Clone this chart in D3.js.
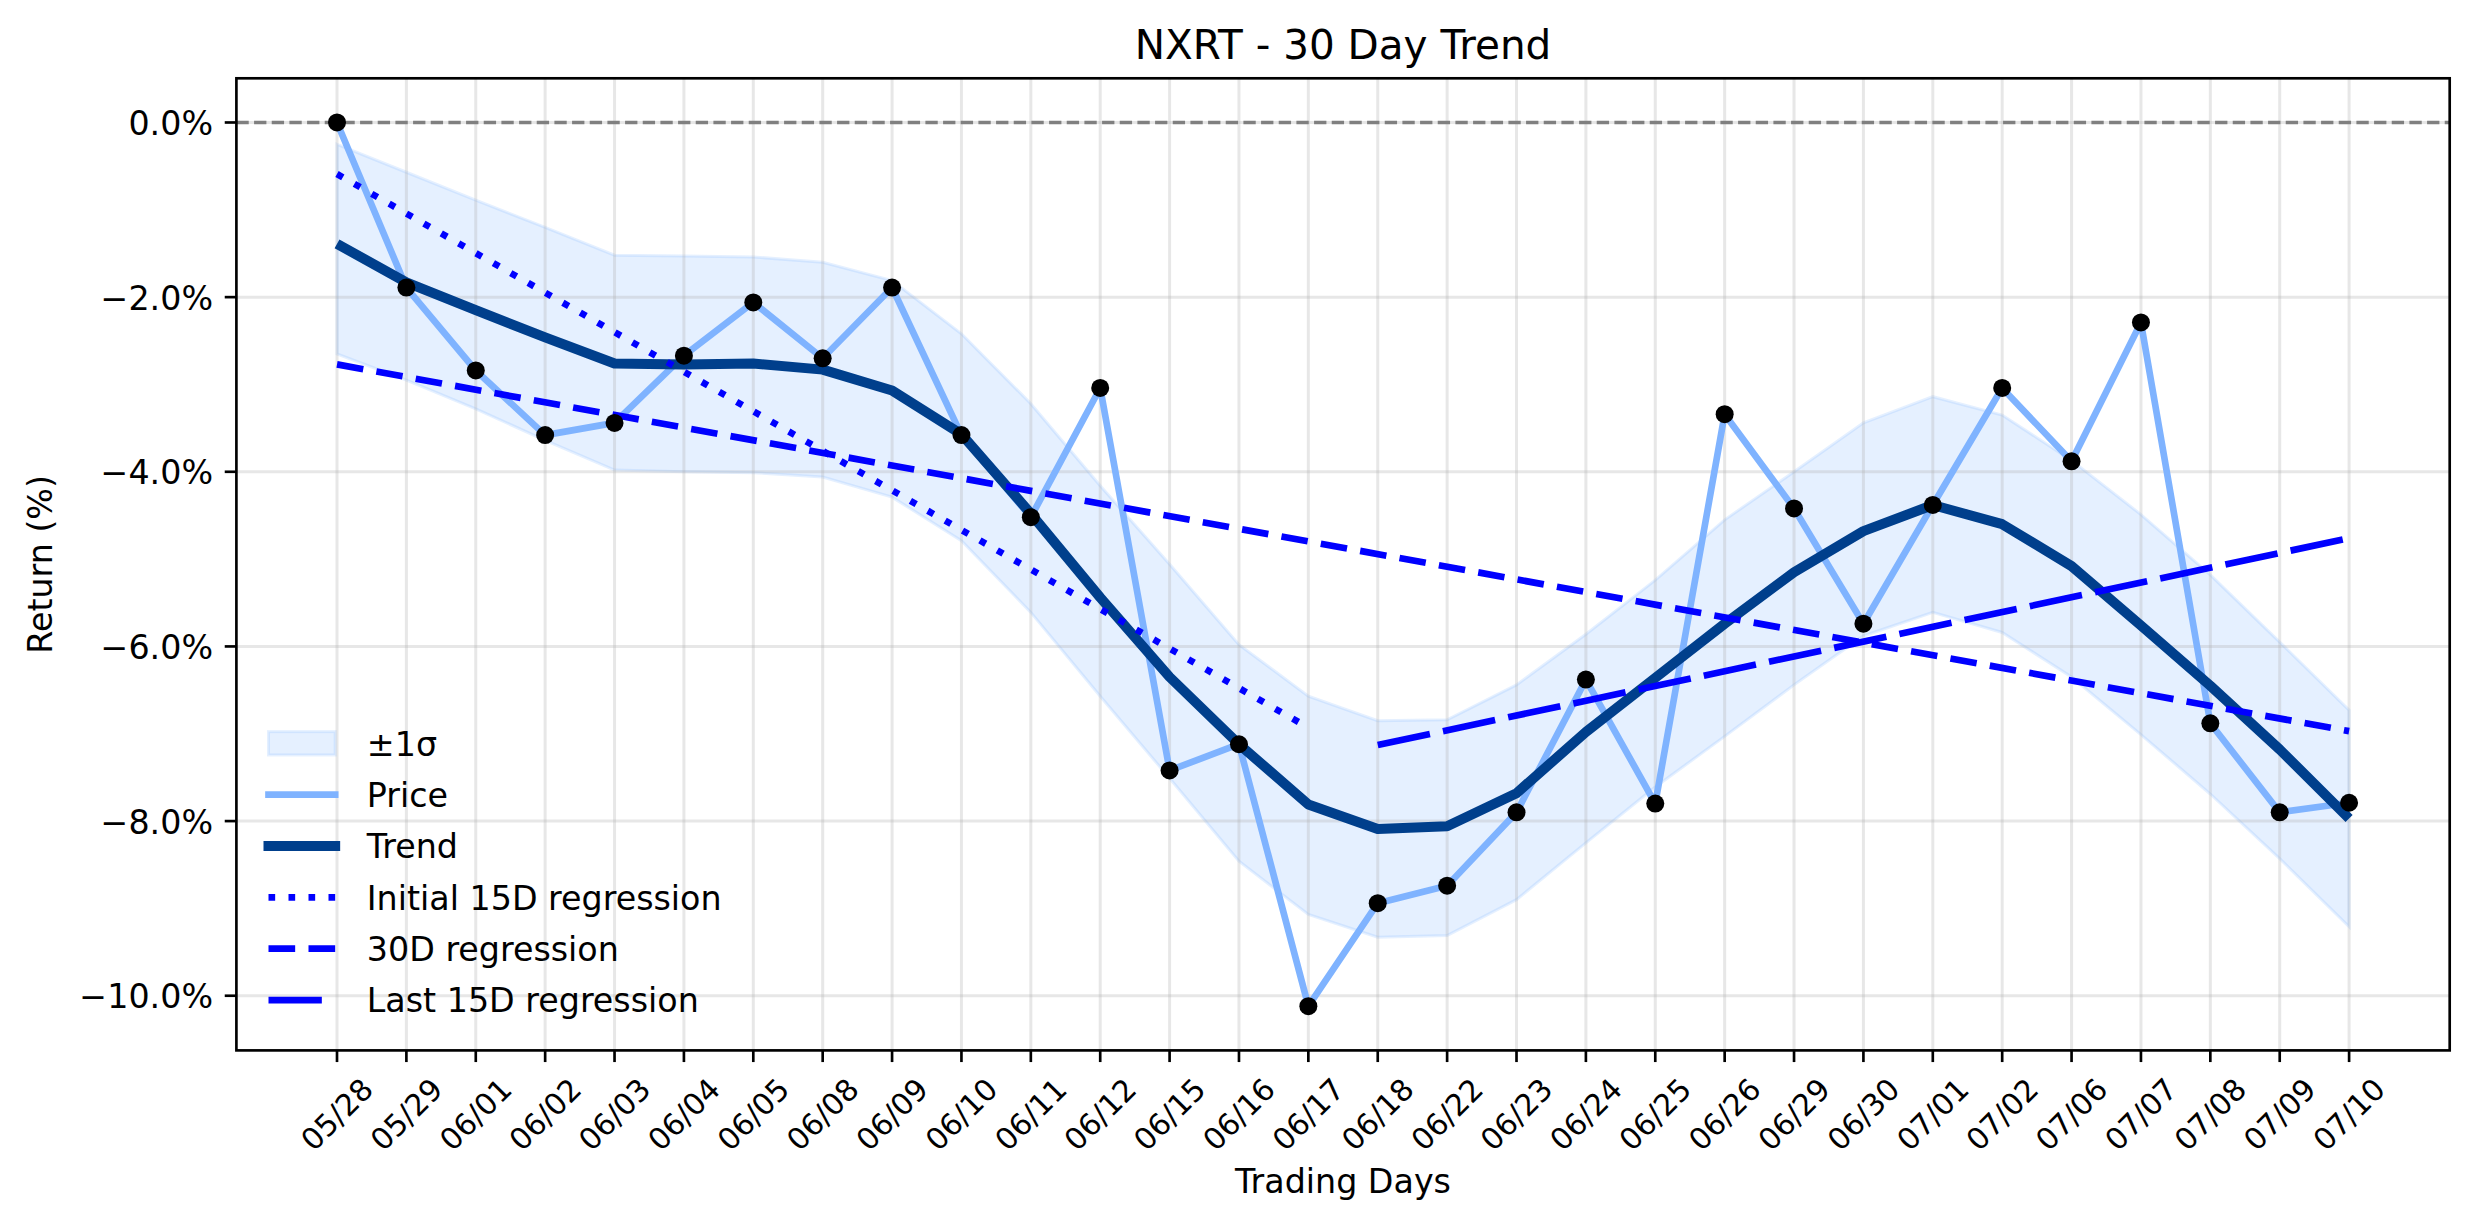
<!DOCTYPE html>
<html>
<head>
<meta charset="utf-8">
<script src="https://cdn.jsdelivr.net/npm/d3@7"></script>
<style>
  html, body { margin: 0; padding: 0; background: #fff; }
  svg { display: block; font-family: 'DejaVu Sans', sans-serif; }
</style>
</head>
<body>
<div id="chart"></div>
<script>
const dates = ['05/28', '05/29', '06/01', '06/02', '06/03', '06/04', '06/05', '06/08', '06/09', '06/10',
    '06/11', '06/12', '06/15', '06/16', '06/17', '06/18', '06/22', '06/23', '06/24', '06/25',
    '06/26', '06/29', '06/30', '07/01', '07/02', '07/06', '07/07', '07/08', '07/09', '07/10']

// returns in %
const price = [0.00, -1.89, -2.84, -3.58, -3.44, -2.67, -2.06, -2.70, -1.89, -3.58,
    -4.52, -3.04, -7.42, -7.12, -10.12, -8.94, -8.74, -7.90, -6.38, -7.80,
    -3.34, -4.42, -5.74, -4.38, -3.04, -3.88, -2.29, -6.88, -7.90, -7.79]

const trend = [-1.39, -1.83, -2.15, -2.46, -2.76, -2.77, -2.76, -2.83, -3.07, -3.57,
    -4.48, -5.44, -6.35, -7.12, -7.81, -8.09, -8.06, -7.68, -6.98, -6.36,
    -5.74, -5.15, -4.68, -4.38, -4.60, -5.08, -5.76, -6.45, -7.18, -7.97]

const sigmaUpper = [-0.25, -0.57, -0.89, -1.20, -1.52, -1.53, -1.54, -1.60, -1.81, -2.42,
    -3.22, -4.16, -5.06, -5.98, -6.57, -6.85, -6.84, -6.44, -5.86, -5.24,
    -4.55, -4.00, -3.44, -3.14, -3.35, -3.87, -4.49, -5.18, -5.95, -6.73]

const sigmaLower = [-2.65, -2.95, -3.28, -3.64, -3.98, -4.00, -4.01, -4.06, -4.29, -4.79,
    -5.61, -6.57, -7.51, -8.46, -9.07, -9.33, -9.31, -8.90, -8.25, -7.61,
    -7.03, -6.44, -5.88, -5.61, -5.84, -6.35, -7.01, -7.69, -8.43, -9.21]

// regression lines: day index and value at each end
const initialRegX = [0, 14]
const initialRegY = [-0.59, -6.93]
const fullRegX = [0, 29]
const fullRegY = [-2.77, -6.97]
const lastRegX = [15, 29]
const lastRegY = [-7.13, -4.76]

const yTicks = [0, -2, -4, -6, -8, -10]

const width = 2474
const height = 1224
const marginTop = 78.3, marginRight = 24.3, marginBottom = 173.6, marginLeft = 236.4
const pt = 10 / 3 // pixels per point

const svg = d3.select('#chart').append('svg')
    .attr('width', width)
    .attr('height', height)

// scales with matplotlib style 5% padding
const n = dates.length
const xPad = (n - 1) * 0.05
const x = d3.scaleLinear()
    .domain([-xPad, n - 1 + xPad])
    .range([marginLeft, width - marginRight])

const yMax = d3.max(price.concat(sigmaUpper))
const yMin = d3.min(price.concat(sigmaLower))
const yPad = (yMax - yMin) * 0.05
const y = d3.scaleLinear()
    .domain([yMax + yPad, yMin - yPad])
    .range([marginTop, height - marginBottom])

const plotLeft = marginLeft, plotRight = width - marginRight
const plotTop = marginTop, plotBottom = height - marginBottom

// band
const band = d3.area()
    .x((d, i) => x(i))
    .y0((d, i) => y(sigmaLower[i]))
    .y1((d, i) => y(sigmaUpper[i]))

svg.append('path')
    .datum(dates)
    .attr('d', band)
    .attr('fill', '#7fb3ff')
    .attr('fill-opacity', 0.2)
    .attr('stroke', '#7fb3ff')
    .attr('stroke-opacity', 0.2)
    .attr('stroke-width', 3)

// grid
svg.append('g').selectAll('line')
    .data(dates)
    .join('line')
    .attr('x1', (d, i) => x(i)).attr('x2', (d, i) => x(i))
    .attr('y1', plotTop).attr('y2', plotBottom)
    .attr('stroke', '#b0b0b0').attr('stroke-opacity', 0.3).attr('stroke-width', 3)

svg.append('g').selectAll('line')
    .data(yTicks)
    .join('line')
    .attr('x1', plotLeft).attr('x2', plotRight)
    .attr('y1', d => y(d)).attr('y2', d => y(d))
    .attr('stroke', '#b0b0b0').attr('stroke-opacity', 0.3).attr('stroke-width', 3)

// zero line
svg.append('line')
    .attr('x1', plotLeft).attr('x2', plotRight)
    .attr('y1', y(0)).attr('y2', y(0))
    .attr('stroke', '#808080')
    .attr('stroke-width', 1 * pt)
    .attr('stroke-dasharray', `${3.7 * pt},${1.6 * pt}`)

const line = d3.line()
    .x((d, i) => x(i))
    .y(d => y(d))

svg.append('path')
    .datum(price)
    .attr('d', line)
    .attr('fill', 'none')
    .attr('stroke', '#7fb3ff')
    .attr('stroke-width', 2 * pt)
    .attr('stroke-linejoin', 'round')

svg.append('path')
    .datum(trend)
    .attr('d', line)
    .attr('fill', 'none')
    .attr('stroke', '#003f8c')
    .attr('stroke-width', 3 * pt)
    .attr('stroke-linejoin', 'round')

const regLine = d3.line()
    .x(d => x(d[0]))
    .y(d => y(d[1]))

const regressions = [
    { xs: initialRegX, ys: initialRegY, dash: `${2 * pt},${4 * pt}` },
    { xs: fullRegX, ys: fullRegY, dash: `${8 * pt},${4 * pt}` },
    { xs: lastRegX, ys: lastRegY, dash: `${16 * pt},${4 * pt}` }
]

svg.append('g').selectAll('path')
    .data(regressions)
    .join('path')
    .attr('d', d => regLine(d.xs.map((v, i) => [v, d.ys[i]])))
    .attr('fill', 'none')
    .attr('stroke', '#0000ff')
    .attr('stroke-width', 2 * pt)
    .attr('stroke-dasharray', d => d.dash)

// price dots
svg.append('g').selectAll('circle')
    .data(price)
    .join('circle')
    .attr('cx', (d, i) => x(i))
    .attr('cy', d => y(d))
    .attr('r', 9)
    .attr('fill', '#000')

// spines
svg.append('rect')
    .attr('x', plotLeft).attr('y', plotTop)
    .attr('width', plotRight - plotLeft).attr('height', plotBottom - plotTop)
    .attr('fill', 'none')
    .attr('stroke', '#000')
    .attr('stroke-width', 0.8 * pt)

// x axis ticks and labels
const tickLen = 3.5 * pt
svg.append('g').selectAll('line')
    .data(dates)
    .join('line')
    .attr('x1', (d, i) => x(i)).attr('x2', (d, i) => x(i))
    .attr('y1', plotBottom).attr('y2', plotBottom + tickLen)
    .attr('stroke', '#000').attr('stroke-width', 0.8 * pt)

svg.append('g').selectAll('text')
    .data(dates)
    .join('text')
    .attr('transform', (d, i) => `translate(${x(i)},${plotBottom + 64}) rotate(-45)`)
    .attr('text-anchor', 'middle')
    .attr('dy', '0.35em')
    .attr('font-size', 30)
    .text(d => d)

// y axis ticks and labels
const fmt = d3.format('.1f')
svg.append('g').selectAll('line')
    .data(yTicks)
    .join('line')
    .attr('x1', plotLeft - tickLen).attr('x2', plotLeft)
    .attr('y1', d => y(d)).attr('y2', d => y(d))
    .attr('stroke', '#000').attr('stroke-width', 0.8 * pt)

svg.append('g').selectAll('text')
    .data(yTicks)
    .join('text')
    .attr('x', plotLeft - tickLen - 11.7)
    .attr('y', d => y(d) + 12.5)
    .attr('text-anchor', 'end')
    .attr('font-size', 33.3)
    .text(d => fmt(d) + '%')

// titles
svg.append('text')
    .attr('x', (plotLeft + plotRight) / 2)
    .attr('y', 59)
    .attr('text-anchor', 'middle')
    .attr('font-size', 40.5)
    .text('NXRT - 30 Day Trend')

svg.append('text')
    .attr('x', (plotLeft + plotRight) / 2)
    .attr('y', 1192.5)
    .attr('text-anchor', 'middle')
    .attr('font-size', 33.3)
    .text('Trading Days')

svg.append('text')
    .attr('transform', `translate(51.5,${(plotTop + plotBottom) / 2}) rotate(-90)`)
    .attr('text-anchor', 'middle')
    .attr('font-size', 33.3)
    .text('Return (%)')

// legend
const legendItems = [
    { label: '±1σ', kind: 'patch' },
    { label: 'Price', kind: 'line', color: '#7fb3ff', width: 2 * pt, cap: 'square' },
    { label: 'Trend', kind: 'line', color: '#003f8c', width: 3 * pt, cap: 'square' },
    { label: 'Initial 15D regression', kind: 'line', color: '#0000ff', width: 2 * pt, dash: regressions[0].dash },
    { label: '30D regression', kind: 'line', color: '#0000ff', width: 2 * pt, dash: regressions[1].dash },
    { label: 'Last 15D regression', kind: 'line', color: '#0000ff', width: 2 * pt, dash: regressions[2].dash }
]

const legendX = 268.5, handleLen = 20 * pt, rowStart = 743.3, rowGap = 51.35

const legend = svg.append('g')
legendItems.forEach((item, i) => {
    const cy = rowStart + i * rowGap
    if (item.kind === 'patch') {
        legend.append('rect')
            .attr('x', legendX).attr('y', cy - 3.5 * pt)
            .attr('width', handleLen).attr('height', 7 * pt)
            .attr('fill', '#7fb3ff').attr('fill-opacity', 0.2)
            .attr('stroke', '#7fb3ff').attr('stroke-opacity', 0.2).attr('stroke-width', 3)
    } else {
        legend.append('line')
            .attr('x1', legendX).attr('x2', legendX + handleLen)
            .attr('y1', cy).attr('y2', cy)
            .attr('stroke', item.color)
            .attr('stroke-width', item.width)
            .attr('stroke-linecap', item.cap || 'butt')
            .attr('stroke-dasharray', item.dash || null)
    }
    legend.append('text')
        .attr('x', 366.8)
        .attr('y', cy + 12.2)
        .attr('font-size', 33.3)
        .text(item.label)
})
</script>
</body>
</html>
